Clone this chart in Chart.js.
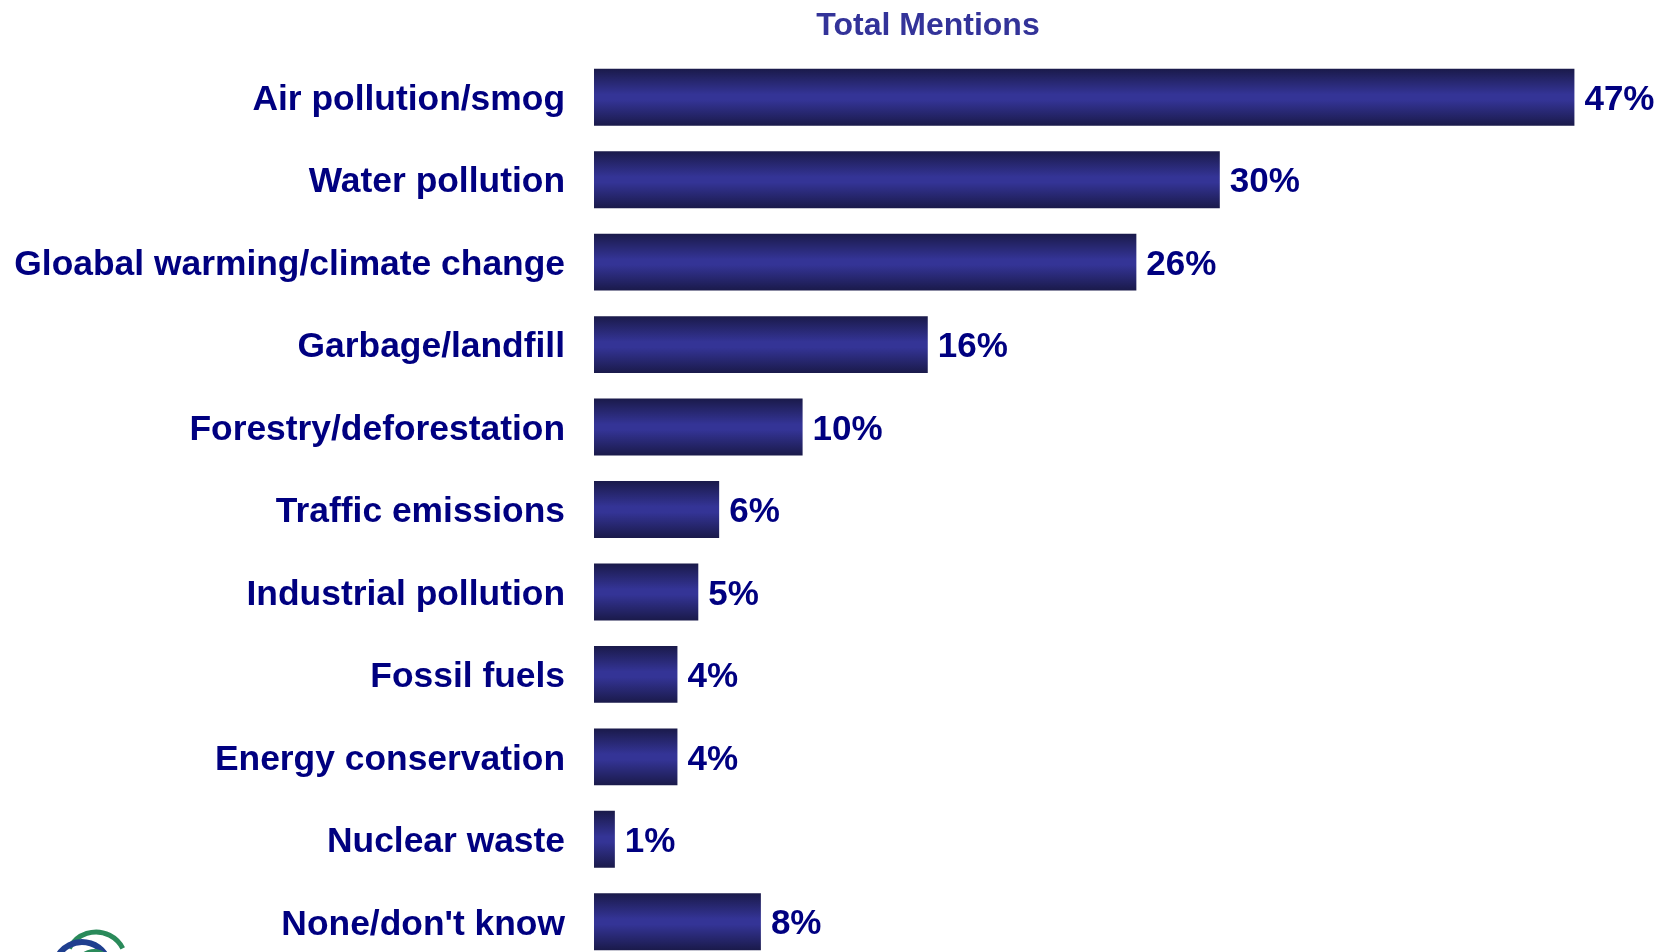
<!DOCTYPE html>
<html lang="en">
<head>
    <meta charset="UTF-8">
    <title>Total Mentions</title>
    <script src="https://cdn.jsdelivr.net/npm/chart.js@4.4.0/dist/chart.umd.min.js"></script>
    <style>
        html, body { margin: 0; padding: 0; background: #fff; overflow: hidden; }
        canvas { display: block; }
    </style>
</head>
<body>
    <canvas id="myChart" width="1663" height="963"></canvas>

    <script>
        // chart data
        const categories = [
            'Air pollution/smog',
            'Water pollution',
            'Gloabal warming/climate change',
            'Garbage/landfill',
            'Forestry/deforestation',
            'Traffic emissions',
            'Industrial pollution',
            'Fossil fuels',
            'Energy conservation',
            'Nuclear waste',
            "None/don't know"
        ];
        const mentions = [47, 30, 26, 16, 10, 6, 5, 4, 4, 1, 8];
        const chartTitle = 'Total Mentions';

        const NAVY = '#000080';

        // vertical shading on each bar, darker at top and bottom edges
        function barFill(ctx) {
            const chart = ctx.chart;
            if (!chart.chartArea || !chart.scales.y) return '#333399';
            const y = chart.scales.y;
            const c = y.getPixelForValue(ctx.dataIndex);
            const pitch = Math.abs(y.getPixelForValue(1) - y.getPixelForValue(0));
            const half = pitch * 0.69 / 2;
            const g = chart.ctx.createLinearGradient(0, c - half, 0, c + half);
            g.addColorStop(0, '#1a1a4a');
            g.addColorStop(0.45, '#343496');
            g.addColorStop(0.55, '#343496');
            g.addColorStop(1, '#1a1a4a');
            return g;
        }

        // value labels at the end of each bar, title and the small logo
        const extras = {
            id: 'extras',
            afterDatasetsDraw(chart) {
                const ctx = chart.ctx;
                const meta = chart.getDatasetMeta(0);
                ctx.save();
                ctx.font = 'bold 35px "Liberation Sans", Arial, sans-serif';
                ctx.fillStyle = NAVY;
                ctx.textAlign = 'left';
                ctx.textBaseline = 'middle';
                meta.data.forEach((bar, i) => {
                    ctx.fillText(mentions[i] + '%', bar.x + 10, bar.y + 3);
                });

                ctx.font = 'bold 32px "Liberation Sans", Arial, sans-serif';
                ctx.fillStyle = '#333399';
                ctx.textAlign = 'center';
                ctx.textBaseline = 'alphabetic';
                ctx.fillText(chartTitle, 928, 35);

                // partial logo in the bottom left corner
                ctx.lineWidth = 5;
                ctx.strokeStyle = '#2a8a5a';
                ctx.beginPath();
                ctx.arc(96, 962, 30, Math.PI * 1.15, Math.PI * 1.85);
                ctx.stroke();
                ctx.strokeStyle = '#1f3f8f';
                ctx.lineWidth = 6;
                ctx.beginPath();
                ctx.arc(82, 970, 28, Math.PI * 1.1, Math.PI * 1.8);
                ctx.stroke();
                ctx.strokeStyle = '#2a8a5a';
                ctx.lineWidth = 4;
                ctx.beginPath();
                ctx.arc(94, 968, 17, Math.PI * 1.2, Math.PI * 1.7);
                ctx.stroke();
                ctx.restore();
            }
        };

        const ctx = document.getElementById('myChart').getContext('2d');
        new Chart(ctx, {
            type: 'bar',
            data: {
                labels: categories,
                datasets: [{
                    data: mentions,
                    backgroundColor: barFill,
                    borderWidth: 0,
                    barPercentage: 0.69,
                    categoryPercentage: 1.0
                }]
            },
            options: {
                indexAxis: 'y',
                responsive: false,
                animation: false,
                layout: { padding: { top: 56, right: 26, bottom: 0, left: 0 } },
                plugins: {
                    legend: { display: false },
                    tooltip: { enabled: false }
                },
                scales: {
                    x: {
                        display: false,
                        min: 0,
                        max: 50
                    },
                    y: {
                        afterFit: (s) => {
                            s.width = 594;
                            // tick padding should not shrink the plot area
                            s.paddingTop = 0;
                            s.paddingBottom = 0;
                        },
                        grid: { display: false, drawTicks: false },
                        border: { display: false },
                        ticks: {
                            padding: 29,
                            labelOffset: 3,
                            color: NAVY,
                            font: { family: '"Liberation Sans", Arial, sans-serif', size: 35.4, weight: 'bold' }
                        }
                    }
                }
            },
            plugins: [extras]
        });
    </script>
</body>
</html>
